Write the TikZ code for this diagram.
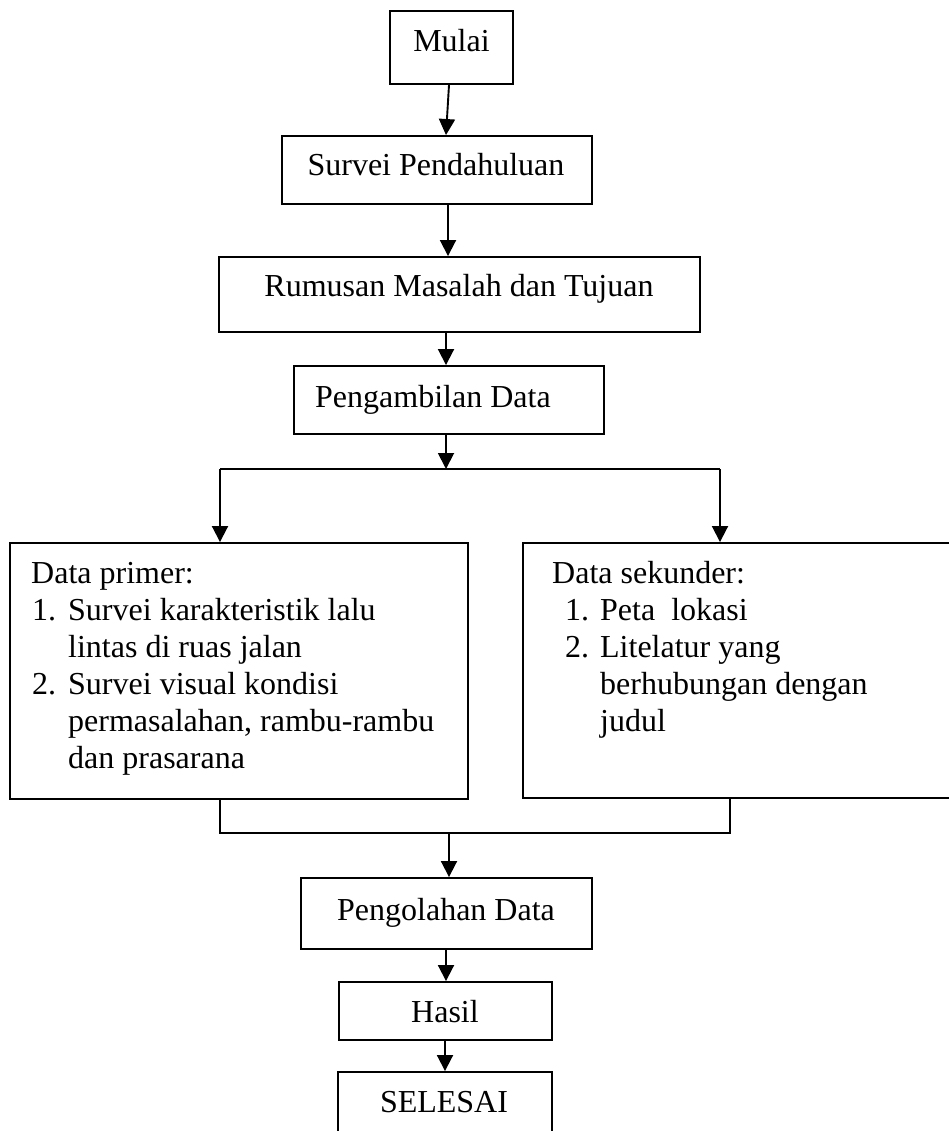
\documentclass[tikz,border=0pt]{standalone}
\usepackage{fontspec}
\setmainfont{Liberation Serif}
\usetikzlibrary{arrows.meta}
\begin{document}
\begin{tikzpicture}[x=1pt,y=-1pt,
  box/.style={draw,line width=1.9pt,inner sep=0pt,fill=none},
  txt/.style={anchor=base,inner sep=0pt,font=\fontsize{32}{37}\selectfont},
  ltxt/.style={anchor=base west,inner sep=0pt,font=\fontsize{32}{37}\selectfont},
  conn/.style={line width=1.9pt},
  arr/.style={line width=1.9pt,-{Triangle[length=16pt,width=16pt]}}]
\useasboundingbox (0,0) rectangle (949,1131);
\clip (0,0) rectangle (949,1131);
% boxes
\node[box,minimum width=123pt,minimum height=73pt] (mulai) at (451.5,47.5) {};
\node[box,minimum width=310pt,minimum height=68pt] (survei) at (437,170) {};
\node[box,minimum width=481pt,minimum height=75pt] (rumusan) at (459.5,294.5) {};
\node[box,minimum width=310pt,minimum height=68pt] (ambil) at (449,400) {};
\node[box,minimum width=458pt,minimum height=256pt] (primer) at (239,671) {};
\node[box,minimum width=437pt,minimum height=255pt] (sekunder) at (741.5,670.5) {};
\node[box,minimum width=291pt,minimum height=71pt] (olah) at (446.5,913.5) {};
\node[box,minimum width=213pt,minimum height=58pt] (hasil) at (445.5,1011) {};
\node[box,minimum width=214pt,minimum height=78pt] (selesai) at (445,1111) {};
% texts
\node[txt] (tmulai) at (451.5,52) {Mulai};
\node[txt] (tsurvei) at (436,176) {Survei Pendahuluan};
\node[txt] (trumusan) at (459,297) {Rumusan Masalah dan Tujuan};
\node[ltxt] (tambil) at (315,407) {Pengambilan Data};
\node[ltxt] (p1) at (31,583) {Data primer:};
\node[ltxt] (p2) at (32,620) {\makebox[36pt][l]{1.}Survei karakteristik lalu};
\node[ltxt] (p3) at (68,657) {lintas di ruas jalan};
\node[ltxt] (p4) at (32,694) {\makebox[36pt][l]{2.}Survei visual kondisi};
\node[ltxt] (p5) at (68,731) {permasalahan, rambu-rambu};
\node[ltxt] (p6) at (68,768) {dan prasarana};
\node[ltxt] (s1) at (552,583) {Data sekunder:};
\node[ltxt] (s2) at (565,620) {\makebox[35pt][l]{1.}Peta\ \ lokasi};
\node[ltxt] (s3) at (565,657) {\makebox[35pt][l]{2.}Litelatur yang};
\node[ltxt] (s4) at (600,694) {berhubungan dengan};
\node[ltxt] (s5) at (600,731) {judul};
\node[txt] (tolah) at (446,920) {Pengolahan Data};
\node[txt] (thasil) at (445,1022) {Hasil};
\node[txt] (tselesai) at (444,1112) {SELESAI};
% junction coordinates
\coordinate (sp) at (446,469);
\coordinate (pl) at (220,469);
\coordinate (pr) at (720,469);
\coordinate (ml) at (220,833);
\coordinate (mr) at (730,833);
\coordinate (mm) at (449,833);
% connectors
\draw[arr] ([xshift=-2.5pt]mulai.south) -- ([xshift=9pt]survei.north);
\draw[arr] ([xshift=11pt]survei.south) -- ([xshift=-11.5pt]rumusan.north);
\draw[arr] ([xshift=-13.5pt]rumusan.south) -- ([xshift=-3pt]ambil.north);
\draw[arr] ([xshift=-3pt]ambil.south) -- (sp);
\draw[conn] (pl) -- (pr);
\draw[arr] (pl) -- ([xshift=-19pt]primer.north);
\draw[arr] (pr) -- ([xshift=-21.5pt]sekunder.north);
\draw[conn] ([xshift=-19pt]primer.south) -- (ml) -- (mr) -- ([xshift=-11.5pt]sekunder.south);
\draw[arr] (mm) -- ([xshift=2.5pt]olah.north);
\draw[arr] ([xshift=-0.5pt]olah.south) -- ([xshift=0.5pt]hasil.north);
\draw[arr] ([xshift=-0.5pt]hasil.south) -- (selesai.north);
\end{tikzpicture}
\end{document}
